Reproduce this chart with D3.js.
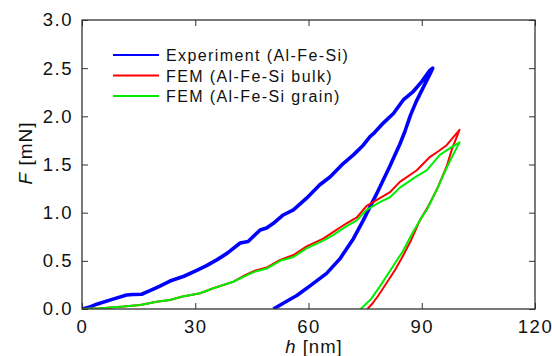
<!DOCTYPE html>
<html><head><meta charset="utf-8">
<script src="https://cdn.jsdelivr.net/npm/d3@7"></script>
<style>body{margin:0;background:#fff}svg{display:block}text{font-family:"Liberation Sans",Arial,sans-serif;fill:#111}</style>
</head><body><div id="c"></div>
<script>
// Experiment (Al-Fe-Si): loading then unloading [h (nm), F (mN)]
const expLoadH = [0,2,3.9,8,11.8,13.5,15.8,18,20.5,23.3,27,30.4,33,35.7,38.5,41.9,44,45.3,47.2,48.9,50.7,53.3,56,59.5,63,65.7,69.2,71.9,74.5,76.3,77.2,79.8,82.5,85.1,87.8,90,92.2,92.9];
const expLoadF = [0,0.02,0.05,0.1,0.145,0.15,0.153,0.19,0.235,0.29,0.34,0.4,0.45,0.51,0.58,0.685,0.7,0.75,0.82,0.84,0.89,0.976,1.03,1.15,1.29,1.37,1.51,1.6,1.7,1.79,1.82,1.93,2.03,2.17,2.26,2.36,2.48,2.5];
const expUnloadH = [92.9,92.2,90.4,88.5,87,85.6,84.2,82.8,81.4,79.8,78.1,76.3,74.5,71.9,68.3,64.8,60.4,56.9,53.3,50.7];
const expUnloadF = [2.5,2.44,2.3,2.15,2.01,1.85,1.71,1.59,1.47,1.34,1.2,1.06,0.92,0.73,0.52,0.37,0.24,0.14,0.06,0];
// FEM (Al-Fe-Si bulk)
const bulkH = [0,5,11,15.4,19.8,23.3,26.4,31.3,34.8,40.1,43.6,46,48.9,52.5,56,59.5,63.9,66.6,70.1,72.8,75.4,78.9,81.5,84.2,88.7,92.2,94.5,96.6,100,98,96.6,94,91.5,89.5,87,85,83,80.5,78.5,77,75.6];
const bulkF = [0,0.008,0.025,0.042,0.076,0.093,0.128,0.163,0.215,0.283,0.36,0.4,0.43,0.51,0.56,0.65,0.73,0.8,0.89,0.95,1.07,1.15,1.21,1.32,1.44,1.58,1.64,1.7,1.86,1.66,1.48,1.24,1.05,0.92,0.7,0.55,0.41,0.26,0.14,0.06,0];
// FEM (Al-Fe-Si grain)
const grainH = [0,5,11,15.4,19.8,23.3,26.4,31.3,34.8,40.1,43.6,46,48.9,52.5,56,59.5,63.9,66.6,70.1,72.8,75.4,78.9,81.6,84.2,88.7,91.3,94.8,97.9,100,97,94,91.5,89.5,87,85,82,79,76.5,73.8];
const grainF = [0,0.008,0.025,0.042,0.076,0.093,0.128,0.163,0.215,0.283,0.35,0.39,0.42,0.5,0.54,0.63,0.71,0.77,0.86,0.92,1.03,1.11,1.16,1.26,1.38,1.44,1.6,1.68,1.73,1.5,1.24,1.04,0.92,0.75,0.6,0.42,0.24,0.1,0];

const xTicks = [0,30,60,90,120];
const yTicks = [0,0.5,1.0,1.5,2.0,2.5,3.0];
const seriesNames = ["Experiment (Al-Fe-Si)","FEM (Al-Fe-Si bulk)","FEM (Al-Fe-Si grain)"];
const seriesColors = ["#0000ff","#ff0000","#00ee00"];

const W=552,H=356, L=82,R=535,T=20,B=309;
const svg=d3.select("#c").append("svg").attr("width",W).attr("height",H);
const x=d3.scaleLinear().domain([0,120]).range([L,R]);
const y=d3.scaleLinear().domain([0,3]).range([B,T]);

const expPts = expLoadH.map((h,i)=>[h,expLoadF[i]]).concat(expUnloadH.map((h,i)=>[h,expUnloadF[i]]));
const bulkPts = bulkH.map((h,i)=>[h,bulkF[i]]);
const grainPts = grainH.map((h,i)=>[h,grainF[i]]);
const line=d3.line().x(d=>x(d[0])).y(d=>y(d[1]));
svg.append("clipPath").attr("id","cp").append("rect").attr("x",L).attr("y",T-2).attr("width",R-L).attr("height",B-T+2);
const g=svg.append("g").attr("clip-path","url(#cp)");
[[expPts,0,3.6],[bulkPts,1,2],[grainPts,2,2]].forEach(([p,i,w])=>{
  g.append("path").attr("d",line(p)).attr("fill","none").attr("stroke",seriesColors[i]).attr("stroke-width",w).attr("stroke-linejoin","round");
});

// axes (inward ticks on all sides)
const fs="18.5px";
const ax=svg.append("g").attr("transform",`translate(0,${B})`).call(d3.axisBottom(x).tickValues(xTicks).tickSize(-6).tickPadding(11).tickFormat(d3.format("d")));
const ay=svg.append("g").attr("transform",`translate(${L},0)`).call(d3.axisLeft(y).tickValues(yTicks).tickSize(-6).tickPadding(9).tickFormat(d3.format(".1f")));
const at=svg.append("g").attr("transform",`translate(0,${T})`).call(d3.axisTop(x).tickValues(xTicks).tickSize(-6).tickFormat(""));
const ar=svg.append("g").attr("transform",`translate(${R},0)`).call(d3.axisRight(y).tickValues(yTicks).tickSize(-6).tickFormat(""));
[ax,ay,at,ar].forEach(a=>{a.select(".domain").remove();a.selectAll("line").attr("stroke","#333");});
ax.selectAll("text").style("font-size",fs).style("letter-spacing","1.5px").attr("fill","#111");
ay.selectAll("text").style("font-size",fs).style("letter-spacing","1.5px").attr("fill","#111");
svg.append("rect").attr("x",L).attr("y",T).attr("width",R-L).attr("height",B-T).attr("fill","none").attr("stroke","#333").attr("stroke-width",1.3);

// axis titles
const xt=svg.append("text").attr("x",314).attr("y",353).attr("text-anchor","middle").style("font-size","18.5px").style("letter-spacing","1px");
xt.append("tspan").style("font-style","italic").text("h");
xt.append("tspan").text(" [nm]");
const yt=svg.append("text").attr("transform","translate(32,153) rotate(-90)").attr("text-anchor","middle").style("font-size","19px").style("letter-spacing","1px");
yt.append("tspan").style("font-style","italic").text("F");
yt.append("tspan").text(" [mN]");

// legend
seriesNames.forEach((n,i)=>{
  const yy=55+i*20.5;
  svg.append("line").attr("x1",113).attr("x2",159).attr("y1",yy).attr("y2",yy).attr("stroke",seriesColors[i]).attr("stroke-width",2.2);
  svg.append("text").attr("x",166).attr("y",yy+6).style("font-size","16px").style("letter-spacing","1.4px").text(n);
});
</script></body></html>
